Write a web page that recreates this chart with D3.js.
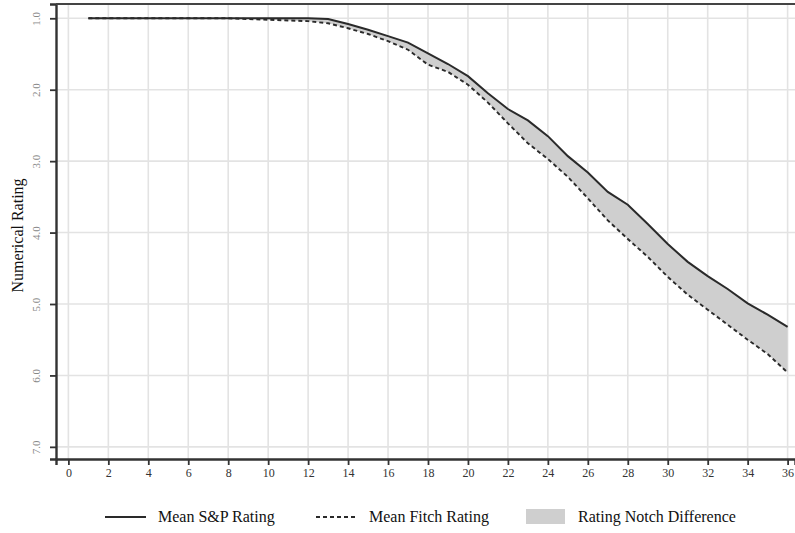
<!DOCTYPE html>
<html>
<head>
<meta charset="utf-8">
<script src="https://cdn.jsdelivr.net/npm/d3@7"></script>
<style>
  html, body { margin: 0; padding: 0; background: #fff; }
  svg { display: block; font-family: "Liberation Serif", "DejaVu Serif", serif; }
</style>
</head>
<body>
<div id="chart"></div>
<script>
// months since issuance
const months = d3.range(1, 37)
// mean S&P rating (1 = AAA)
const spRating = [
  1.0, 1.0, 1.0, 1.0, 1.0, 1.0, 1.0, 1.0, 1.0, 1.0, 1.0, 1.0,
  1.01, 1.08, 1.16, 1.25, 1.34, 1.49, 1.64, 1.81, 2.05, 2.27, 2.43, 2.65,
  2.93, 3.16, 3.43, 3.61, 3.88, 4.16, 4.41, 4.61, 4.79, 4.99, 5.15, 5.32
]
// mean Fitch rating
const fitchRating = [
  1.0, 1.0, 1.0, 1.0, 1.0, 1.0, 1.0, 1.0, 1.01, 1.02, 1.03, 1.04,
  1.07, 1.14, 1.22, 1.32, 1.44, 1.65, 1.75, 1.93, 2.18, 2.47, 2.75, 2.97,
  3.22, 3.52, 3.83, 4.09, 4.34, 4.62, 4.87, 5.08, 5.29, 5.50, 5.70, 5.96
]
const xTicks = d3.range(0, 37, 2)
const yTicks = [1, 2, 3, 4, 5, 6, 7]
const legendItems = ["Mean S&P Rating", "Mean Fitch Rating", "Rating Notch Difference"]

const width = 795
const height = 533
const margin = { top: 4, right: 0, bottom: 74, left: 56 }

const svg = d3.select("#chart").append("svg")
  .attr("width", width).attr("height", height)

const x = d3.scaleLinear().domain([-0.62, 36.37]).range([margin.left, width - margin.right])
const y = d3.scaleLinear().domain([0.8, 7.17]).range([margin.top, height - margin.bottom])

const data = months.map((m, i) => ({ m, sp: spRating[i], fitch: fitchRating[i] }))

// Grid
svg.append("g").selectAll("line").data(xTicks).join("line")
  .attr("x1", d => x(d)).attr("x2", d => x(d))
  .attr("y1", y.range()[0]).attr("y2", y.range()[1])
  .attr("stroke", "#e3e3e3").attr("stroke-width", 1.6)
svg.append("g").selectAll("line").data(yTicks).join("line")
  .attr("x1", x.range()[0]).attr("x2", x.range()[1])
  .attr("y1", d => y(d)).attr("y2", d => y(d))
  .attr("stroke", "#e3e3e3").attr("stroke-width", 1.6)

// Notch difference band
svg.append("path").datum(data)
  .attr("fill", "#cfcfcf")
  .attr("d", d3.area().x(d => x(d.m)).y0(d => y(d.sp)).y1(d => y(d.fitch)))

svg.append("path").datum(data)
  .attr("fill", "none").attr("stroke", "#2a2a2a").attr("stroke-width", 1.9)
  .attr("stroke-dasharray", "4,3")
  .attr("d", d3.line().x(d => x(d.m)).y(d => y(d.fitch)))

svg.append("path").datum(data)
  .attr("fill", "none").attr("stroke", "#2a2a2a").attr("stroke-width", 2)
  .attr("d", d3.line().x(d => x(d.m)).y(d => y(d.sp)))

// Axes
svg.append("g").attr("transform", `translate(0,${y.range()[1]})`)
  .call(d3.axisBottom(x).tickValues(xTicks).tickSize(6).tickPadding(3))
  .call(g => g.select(".domain").attr("stroke", "#333").attr("stroke-width", 2.4))
  .call(g => g.selectAll(".tick line").attr("stroke", "#333").attr("stroke-width", 1.8))
  .call(g => g.selectAll(".tick text").attr("font-family", "Liberation Serif")
    .attr("font-size", 12).attr("fill", "#333"))

svg.append("g").attr("transform", `translate(${x.range()[0]},0)`)
  .call(d3.axisLeft(y).tickValues(yTicks).tickSize(6).tickFormat(d3.format(".1f")))
  .call(g => g.select(".domain").attr("stroke", "#333").attr("stroke-width", 2.4))
  .call(g => g.selectAll(".tick line").attr("stroke", "#333").attr("stroke-width", 1.8))
  .call(g => g.selectAll(".tick text").attr("font-family", "Liberation Serif")
    .attr("font-size", 11).attr("fill", "#888")
    .attr("transform", "rotate(-90)").attr("x", 0).attr("y", -16)
    .attr("dy", "0").attr("text-anchor", "middle"))

// top frame line
svg.append("line")
  .attr("x1", x.range()[0]).attr("x2", x.range()[1])
  .attr("y1", y.range()[0]).attr("y2", y.range()[0])
  .attr("stroke", "#444").attr("stroke-width", 2.2)

// Axis label
svg.append("text")
  .attr("transform", `translate(23,${(y.range()[0] + y.range()[1]) / 2 + 4}) rotate(-90)`)
  .attr("text-anchor", "middle").attr("font-size", 16).attr("fill", "#111")
  .text("Numerical Rating")

// Legend
const ly = 517
const legend = svg.append("g").attr("font-size", 16).attr("fill", "#111")
legend.append("line").attr("x1", 105).attr("x2", 146).attr("y1", ly).attr("y2", ly)
  .attr("stroke", "#2a2a2a").attr("stroke-width", 2)
legend.append("text").attr("x", 158).attr("y", ly + 5).text(legendItems[0])
legend.append("line").attr("x1", 316).attr("x2", 356).attr("y1", ly).attr("y2", ly)
  .attr("stroke", "#2a2a2a").attr("stroke-width", 1.9).attr("stroke-dasharray", "4,3")
legend.append("text").attr("x", 369).attr("y", ly + 5).text(legendItems[1])
legend.append("rect").attr("x", 526).attr("y", ly - 8).attr("width", 39).attr("height", 15)
  .attr("fill", "#cfcfcf")
legend.append("text").attr("x", 578).attr("y", ly + 5).text(legendItems[2])
</script>
</body>
</html>
